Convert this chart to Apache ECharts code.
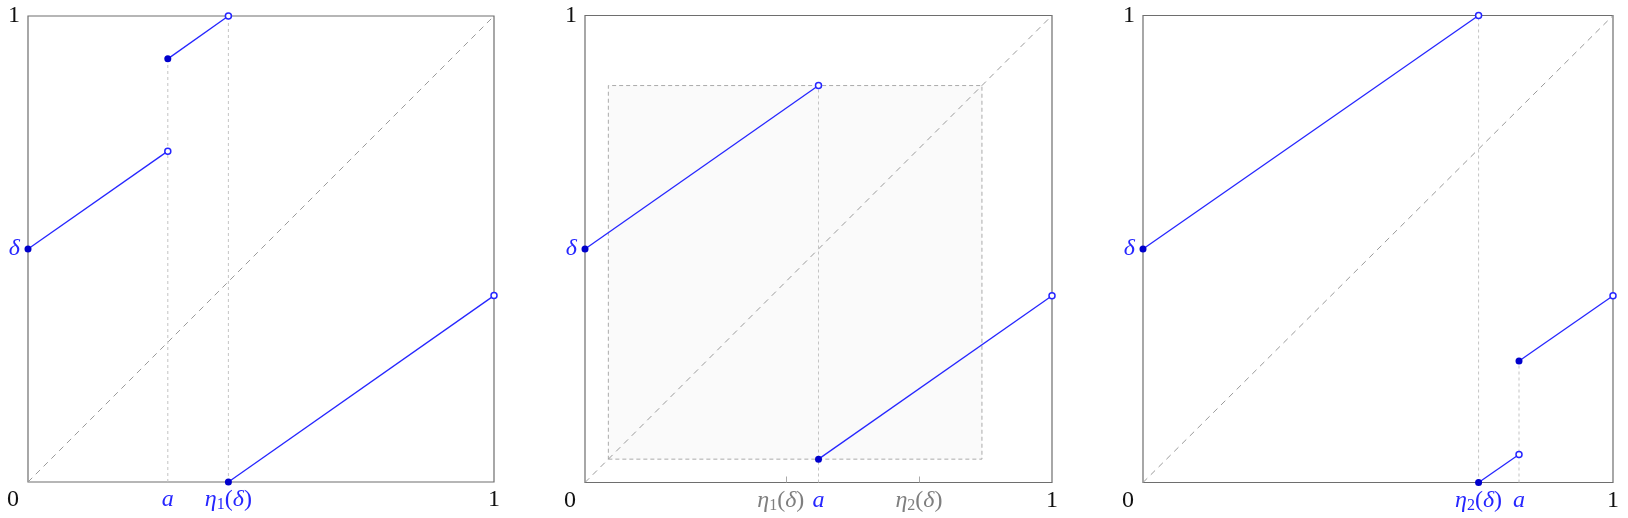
<!DOCTYPE html>
<html>
<head>
<meta charset="utf-8">
<script src="https://cdn.jsdelivr.net/npm/echarts@6/dist/echarts.min.js"></script>
<style>
  html, body { margin: 0; padding: 0; background: #fff; }
  #chart { width: 1628px; height: 518px; }
</style>
</head>
<body>
<div id="chart"></div>
<script>
// all values on the unit square
const diagonal = [[0, 0], [1, 1]];

// left panel: a < eta1(delta)
const p1Segments = [
  [[0, 0.5], [0.3, 0.71]],
  [[0.3, 0.908], [0.43, 1]],
  [[0.43, 0], [1, 0.4]]
];
const p1Filled = [[0, 0.5], [0.3, 0.908], [0.43, 0]];
const p1Open = [[0.3, 0.71], [0.43, 1], [1, 0.4]];
const p1Guides = [
  [[0.3, 0], [0.3, 0.908]],
  [[0.43, 0], [0.43, 1]]
];
const p1XTicks = [0, 0.3, 0.43, 1];

// middle panel: eta1(delta) < a < eta2(delta)
const p2Segments = [
  [[0, 0.5], [0.5, 0.85]],
  [[0.5, 0.05], [1, 0.4]]
];
const p2Filled = [[0, 0.5], [0.5, 0.05]];
const p2Open = [[0.5, 0.85], [1, 0.4]];
const p2Guides = [
  [[0.5, 0], [0.5, 0.85]]
];
const p2Box = [0.05, 0.85];
const p2XTicks = [0, 0.43, 0.5, 0.715, 1];
const p2TickMarks = [0.43, 0.715];

// right panel: a > eta2(delta)
const p3Segments = [
  [[0, 0.5], [0.714, 1]],
  [[0.714, 0], [0.8, 0.06]],
  [[0.8, 0.26], [1, 0.4]]
];
const p3Filled = [[0, 0.5], [0.714, 0], [0.8, 0.26]];
const p3Open = [[0.714, 1], [0.8, 0.06], [1, 0.4]];
const p3Guides = [
  [[0.714, 0], [0.714, 1]],
  [[0.8, 0], [0.8, 0.26]]
];
const p3XTicks = [0, 0.714, 0.8, 1];

const yTicks = [0.5, 1];

function eta(n, c, last) {
  return '{' + c + 'i|η}{' + c + 's|' + n + '}{' + c + 'r|(}{' + c + 'i|δ}{' + (last || c + 'r') + '|)}';
}
const p1XLabels = ['{zero|0}', '{bi|a}', eta(1, 'b'), '{k|1}'];
const p2XLabels = ['{zero|0}', eta(1, 'g', 'grl'), '{bi|a}', eta(2, 'g'), '{k|1}'];
const p3XLabels = ['{zero|0}', eta(2, 'b'), '{bi|a}', '{k|1}'];
const yLabels = ['{bi|δ}', '{k|1}'];

const font = '"Liberation Serif", "DejaVu Serif", serif';
const blue = '#2626ff';
const grey = '#7f7f7f';
const fs = 24;
const rich = {
  k: { color: '#111', fontSize: fs, fontFamily: font, lineHeight: 26 },
  zero: { color: '#111', fontSize: fs, fontFamily: font, lineHeight: 26, padding: [0, 30, 0, 0] },
  bi: { color: blue, fontSize: fs, fontStyle: 'italic', fontFamily: font, lineHeight: 26 },
  br: { color: blue, fontSize: fs, fontFamily: font, lineHeight: 26 },
  bs: { color: blue, fontSize: 16, fontFamily: font, lineHeight: 16, verticalAlign: 'bottom' },
  gi: { color: grey, fontSize: fs, fontStyle: 'italic', fontFamily: font, lineHeight: 26 },
  gr: { color: grey, fontSize: fs, fontFamily: font, lineHeight: 26 },
  grl: { color: grey, fontSize: fs, fontFamily: font, lineHeight: 26, padding: [0, 10, 0, 0] },
  gs: { color: grey, fontSize: 16, fontFamily: font, lineHeight: 16, verticalAlign: 'bottom' }
};

const grids = [
  { left: 28, top: 16, width: 466, height: 466 },
  { left: 585, top: 15.5, width: 467, height: 467 },
  { left: 1143, top: 15.5, width: 470, height: 467 }
];

const panels = [
  { seg: p1Segments, filled: p1Filled, open: p1Open, guides: p1Guides, xt: p1XTicks, xl: p1XLabels, marks: [] },
  { seg: p2Segments, filled: p2Filled, open: p2Open, guides: p2Guides, xt: p2XTicks, xl: p2XLabels, marks: p2TickMarks, box: p2Box },
  { seg: p3Segments, filled: p3Filled, open: p3Open, guides: p3Guides, xt: p3XTicks, xl: p3XLabels, marks: [] }
];

const xAxis = [];
const yAxis = [];
const series = [];

panels.forEach(function (p, i) {
  xAxis.push({
    type: 'value', gridIndex: i, min: 0, max: 1,
    axisLine: { show: false },
    splitLine: { show: false },
    axisTick: {
      show: p.marks.length > 0, inside: true, length: 6,
      customValues: p.marks,
      lineStyle: { color: '#aaa', width: 1 }
    },
    axisLabel: {
      customValues: p.xt, margin: 5, rich: rich,
      formatter: function (v) {
        const k = p.xt.indexOf(v);
        return k >= 0 ? p.xl[k] : '';
      }
    }
  });
  yAxis.push({
    type: 'value', gridIndex: i, min: 0, max: 1,
    axisLine: { show: false },
    splitLine: { show: false },
    axisTick: { show: false },
    axisLabel: {
      customValues: yTicks, margin: 8, rich: rich,
      formatter: function (v) {
        const k = yTicks.indexOf(v);
        return k >= 0 ? yLabels[k] : '';
      }
    }
  });

  const diag = {
    type: 'line', xAxisIndex: i, yAxisIndex: i, data: diagonal,
    symbol: 'none', silent: true, z: 2,
    lineStyle: { color: '#9a9a9a', width: 1, type: [6, 5] }
  };
  if (p.box) {
    diag.markArea = {
      silent: true,
      itemStyle: { color: '#fafafa', borderColor: '#aaa', borderWidth: 1, borderType: [4, 3] },
      data: [[{ coord: [p.box[0], p.box[0]] }, { coord: [p.box[1], p.box[1]] }]]
    };
  }
  series.push(diag);

  p.guides.forEach(function (g) {
    series.push({
      type: 'line', xAxisIndex: i, yAxisIndex: i, data: g,
      symbol: 'none', silent: true, z: 3,
      lineStyle: { color: '#c4c4c4', width: 1, type: [3, 3] }
    });
  });
  p.seg.forEach(function (s) {
    series.push({
      type: 'line', xAxisIndex: i, yAxisIndex: i, data: s,
      symbol: 'none', silent: true, z: 4,
      lineStyle: { color: blue, width: 1.3 }
    });
  });
  series.push({
    type: 'scatter', xAxisIndex: i, yAxisIndex: i, data: p.filled,
    symbol: 'circle', symbolSize: 7, silent: true, z: 5,
    itemStyle: { color: '#0000cc', opacity: 1 }
  });
  series.push({
    type: 'scatter', xAxisIndex: i, yAxisIndex: i, data: p.open,
    symbol: 'circle', symbolSize: 6, silent: true, z: 5,
    itemStyle: { color: '#fff', borderColor: blue, borderWidth: 1.5, opacity: 1 }
  });
});

const chart = echarts.init(document.getElementById('chart'));
chart.setOption({
  animation: false,
  backgroundColor: '#fff',
  grid: grids.map(function (g) {
    return Object.assign({
      show: true, borderColor: '#6e6e6e', borderWidth: 1.2,
      backgroundColor: 'transparent', containLabel: false, outerBoundsMode: 'none'
    }, g);
  }),
  xAxis: xAxis,
  yAxis: yAxis,
  series: series
});
</script>
</body>
</html>
